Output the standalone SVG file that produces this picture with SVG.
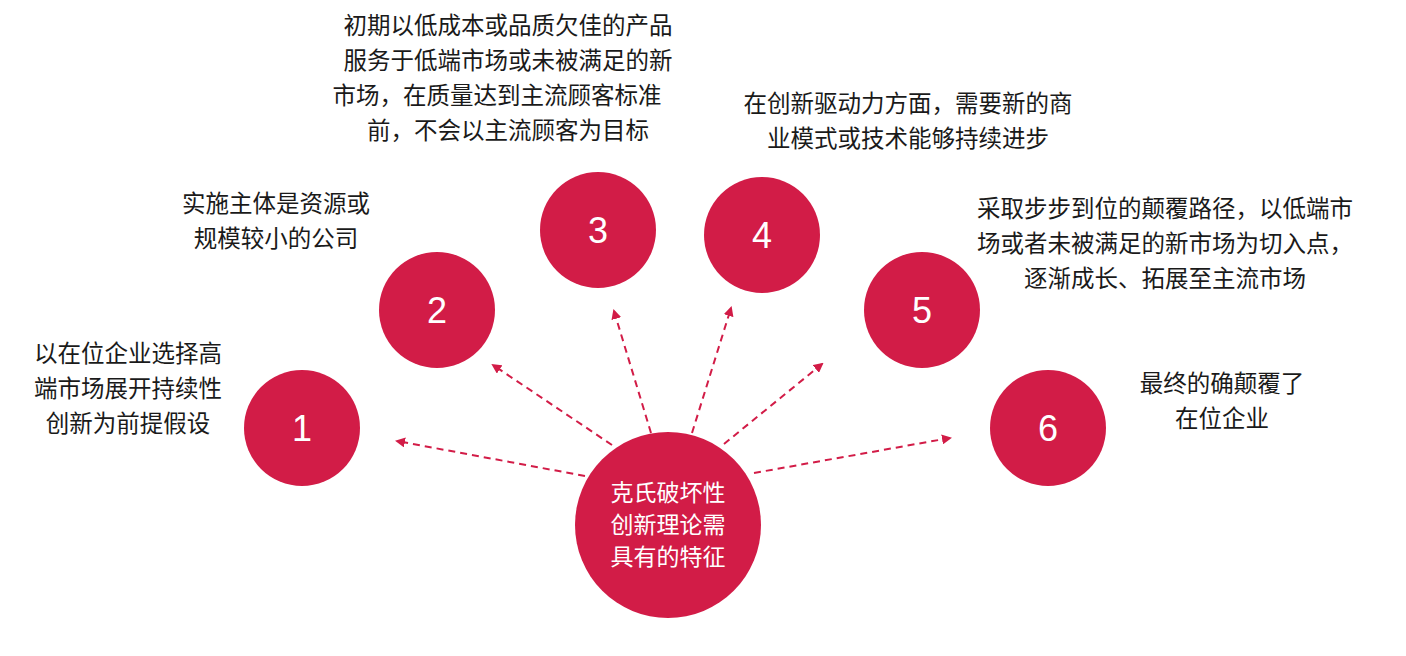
<svg xmlns="http://www.w3.org/2000/svg" width="1406" height="656" viewBox="0 0 1406 656">
<style>
.c{fill:#d21c47}
.n{font-family:"Liberation Sans",Arial,sans-serif;font-size:36px;fill:#fff;text-anchor:middle}
.t{font-family:"Noto Sans CJK SC",sans-serif;font-size:23.5px;fill:#1a1a1a;text-anchor:middle}
.w{font-family:"Noto Sans CJK SC",sans-serif;font-size:23px;fill:#fff;text-anchor:middle}
.a{stroke:#d21c47;stroke-width:2;stroke-dasharray:7 5;fill:none;marker-end:url(#ah)}
</style>
<defs><marker id="ah" markerWidth="10" markerHeight="10" refX="8" refY="5" orient="auto" markerUnits="userSpaceOnUse"><path d="M0,0 L10,5 L0,10 Z" fill="#d21c47"/></marker></defs>
<rect width="1406" height="656" fill="#fff"/>
<g id="connectors">
<line class="a" x1="585" y1="476" x2="397" y2="441"/>
<line class="a" x1="612" y1="445" x2="493" y2="365"/>
<line class="a" x1="651" y1="433" x2="614" y2="311"/>
<line class="a" x1="692" y1="433" x2="731" y2="308"/>
<line class="a" x1="724" y1="444" x2="822" y2="364"/>
<line class="a" x1="754" y1="473" x2="950" y2="438"/>
</g>
<g id="center"><circle class="c" cx="668" cy="525" r="93"/>
<text class="w" x="668" y="501">克氏破坏性</text><text class="w" x="668" y="533">创新理论需</text><text class="w" x="668" y="565">具有的特征</text></g>
<g id="n1"><circle class="c" cx="302" cy="428" r="58"/><text class="n" x="302" y="441">1</text>
<text class="t" x="128" y="362">以在位企业选择高</text><text class="t" x="128" y="397">端市场展开持续性</text><text class="t" x="128" y="432">创新为前提假设</text></g>
<g id="n2"><circle class="c" cx="437" cy="310" r="58"/><text class="n" x="437" y="323">2</text>
<text class="t" x="276" y="212">实施主体是资源或</text><text class="t" x="276" y="247">规模较小的公司</text></g>
<g id="n3"><circle class="c" cx="598" cy="230" r="58"/><text class="n" x="598" y="243">3</text>
<text class="t" x="508" y="34">初期以低成本或品质欠佳的产品</text><text class="t" x="508" y="69">服务于低端市场或未被满足的新</text><text class="t" x="497" y="104">市场，在质量达到主流顾客标准</text><text class="t" x="508" y="139">前，不会以主流顾客为目标</text></g>
<g id="n4"><circle class="c" cx="762" cy="235" r="58"/><text class="n" x="762" y="248">4</text>
<text class="t" x="908" y="112">在创新驱动力方面，需要新的商</text><text class="t" x="908" y="147">业模式或技术能够持续进步</text></g>
<g id="n5"><circle class="c" cx="922" cy="310" r="58"/><text class="n" x="922" y="323">5</text>
<text class="t" x="1165" y="217">采取步步到位的颠覆路径，以低端市</text><text class="t" x="1165" y="252">场或者未被满足的新市场为切入点，</text><text class="t" x="1165" y="287">逐渐成长、拓展至主流市场</text></g>
<g id="n6"><circle class="c" cx="1048" cy="428" r="58"/><text class="n" x="1048" y="441">6</text>
<text class="t" x="1222" y="392">最终的确颠覆了</text><text class="t" x="1222" y="427">在位企业</text></g>
</svg>
